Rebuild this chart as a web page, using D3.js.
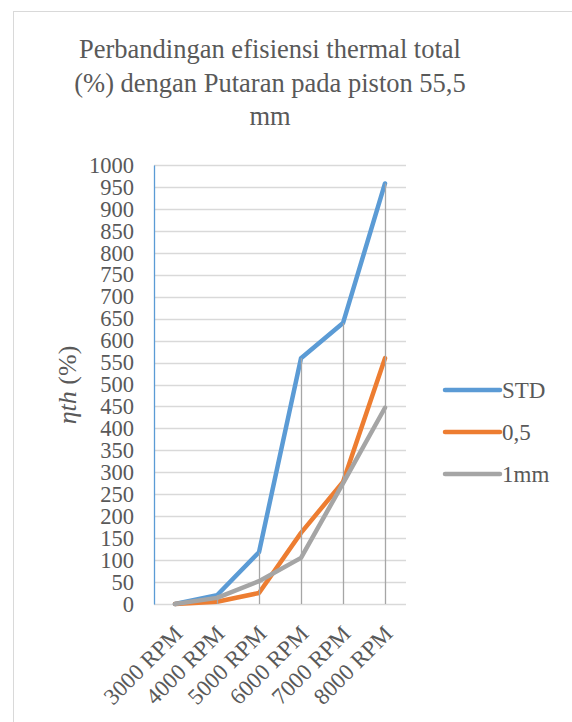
<!DOCTYPE html>
<html>
<head>
<meta charset="utf-8">
<script src="https://cdn.jsdelivr.net/npm/d3@7"></script>
<style>
    body { margin: 0; background: #fff; }
    svg text, svg tspan { font-family: "Liberation Serif", "Times New Roman", serif; }
</style>
</head>
<body>
<svg id="chart" width="572" height="722"></svg>
<script>
const categories = ["3000 RPM", "4000 RPM", "5000 RPM", "6000 RPM", "7000 RPM", "8000 RPM"];
const seriesNames = ["STD", "0,5", "1mm"];
const stdValues = [0, 20, 118, 560, 640, 958];
const halfValues = [0, 5, 25, 162, 278, 560];
const oneMmValues = [0, 14, 52, 105, 275, 447];
const yTicks = d3.range(0, 1001, 50);
const titleLines = ["Perbandingan efisiensi thermal total", "(%) dengan Putaran pada piston 55,5", "mm"];

const colorLookup = {
    "STD": "#5b9bd5",
    "0,5": "#ed7d31",
    "1mm": "#a5a5a5"
};

const series = [
    {name: seriesNames[0], values: stdValues},
    {name: seriesNames[1], values: halfValues},
    {name: seriesNames[2], values: oneMmValues}
];

const FONT = '"Liberation Serif", "Times New Roman", serif';
const TEXT = "#595959";

const margin = ({top: 165, right: 166, bottom: 118, left: 154});
const width = 572;
const height = 722;

const svg = d3.select("#chart");

// chart border
svg.append("rect")
    .attr("x", 13.5).attr("y", 11.5)
    .attr("width", 600).attr("height", 760)
    .attr("fill", "#fff")
    .attr("stroke", "#d9d9d9");

const xScale = d3.scaleBand()
    .domain(categories)
    .range([margin.left, width - margin.right])
    .padding(0);

const yScale = d3.scaleLinear()
    .domain([0, 1000])
    .range([height - margin.bottom, margin.top]);

const cx = d => xScale(d) + xScale.bandwidth() / 2;

// title, one text per line
svg.append("g")
    .selectAll("text")
    .data(titleLines)
    .join("text")
    .attr("text-anchor", "middle")
    .attr("x", 270)
    .attr("y", (d, i) => 58 + i * 33.5)
    .attr("font-family", FONT)
    .style("font-family", FONT)
    .style("font-size", "26.5px")
    .attr("fill", TEXT)
    .text(d => d);

// gridlines
svg.append("g")
    .selectAll("line")
    .data(yTicks)
    .join("line")
    .attr("x1", margin.left)
    .attr("x2", width - margin.right)
    .attr("y1", d => Math.round(yScale(d)) + 0.5)
    .attr("y2", d => Math.round(yScale(d)) + 0.5)
    .attr("stroke", "#d9d9d9")
    .attr("stroke-width", 1.3);

// y axis
const yAxis = g => g.attr("transform", `translate(${margin.left}, 0)`)
    .call(d3.axisLeft(yScale).tickValues(yTicks).tickFormat(d3.format("d")).tickSize(0).tickPadding(20))
    .call(g => g.select(".domain").attr("stroke", "#5b9bd5").attr("stroke-width", 1.3))
    .call(g => g.selectAll("text")
        .style("font-size", "22.5px")
        .style("font-family", FONT)
        .attr("fill", TEXT));
svg.append("g").call(yAxis);

// y title
const yTitle = svg.append("text")
    .attr("transform", "translate(76, 385) rotate(-90)")
    .attr("text-anchor", "middle")
    .style("font-family", FONT)
    .style("font-size", "26px")
    .attr("fill", TEXT);
yTitle.append("tspan").style("font-family", FONT).style("font-style", "italic").text("ηth");
yTitle.append("tspan").style("font-family", FONT).text(" (%)");

// x labels
svg.append("g")
    .selectAll("text")
    .data(categories)
    .join("text")
    .attr("text-anchor", "end")
    .attr("transform", d => `translate(${cx(d) + 9}, 635) rotate(-45)`)
    .style("font-family", FONT)
    .style("font-size", "23px")
    .attr("fill", TEXT)
    .text(d => d);

// series lines
const line = d3.line()
    .x((d, i) => cx(categories[i]))
    .y(d => yScale(d));

svg.append("g")
    .selectAll("path")
    .data(series)
    .join("path")
    .attr("d", d => line(d.values))
    .attr("fill", "none")
    .attr("stroke", d => colorLookup[d.name])
    .attr("stroke-width", 4.5)
    .attr("stroke-linejoin", "round")
    .attr("stroke-linecap", "round");

// drop lines
svg.append("g")
    .selectAll("line")
    .data(categories)
    .join("line")
    .attr("x1", d => Math.round(cx(d)) + 0.5)
    .attr("x2", d => Math.round(cx(d)) + 0.5)
    .attr("y1", (d, i) => yScale(d3.max(series, s => s.values[i])))
    .attr("y2", yScale(0))
    .attr("stroke", "#a6a6a6")
    .attr("stroke-width", 1.3);

// legend
const legend = svg.append("g")
    .selectAll("g")
    .data(series)
    .join("g")
    .attr("transform", (d, i) => `translate(445, ${390 + i * 42})`);

legend.append("line")
    .attr("x1", 0).attr("x2", 55)
    .attr("stroke", d => colorLookup[d.name])
    .attr("stroke-width", 4.5)
    .attr("stroke-linecap", "round");

legend.append("text")
    .attr("x", 57)
    .attr("y", 8)
    .style("font-family", FONT)
    .style("font-size", "23px")
    .attr("fill", TEXT)
    .text(d => d.name);
</script>
</body>
</html>
